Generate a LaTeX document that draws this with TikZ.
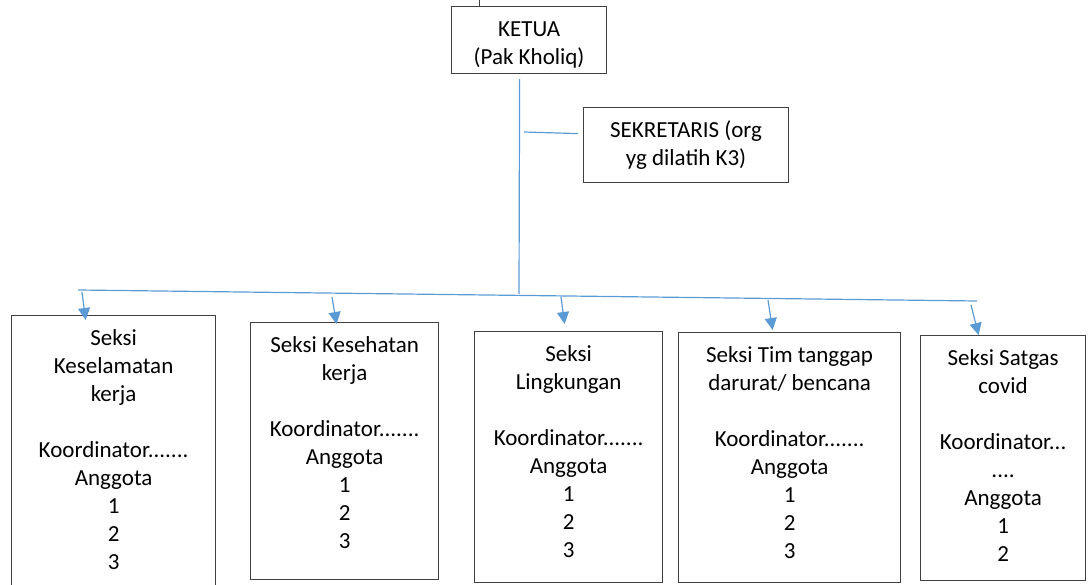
\documentclass[tikz,border=0pt]{standalone}
\usepackage{fontspec}
\setmainfont{Carlito}
\usetikzlibrary{arrows.meta,positioning}
\definecolor{garisBiru}{RGB}{91,155,213}
\definecolor{garisKotak}{RGB}{64,64,64}
\newcommand{\isikotak}[3]{\parbox[c][#2][t]{#1}{\centering\rule{0pt}{29.5pt}#3}}

\begin{document}
\begin{tikzpicture}[x=1pt,y=-1pt,line cap=butt,
  kotak/.style={draw=garisKotak,line width=1.2pt,anchor=north west,inner sep=0pt,
    font=\fontsize{23}{28}\selectfont},
  garis/.style={garisBiru,line width=1.2pt},
  panah/.style={garis,-{Triangle[length=12pt,width=12pt]}}]
  \useasboundingbox (0,0) rectangle (1090,585);
  \node[kotak] (ketua) at (451,6) {\isikotak{155pt}{67pt}{KETUA\\(Pak Kholiq)}};
  \node[kotak] (sek) at (583,107) {\isikotak{205pt}{75pt}{SEKRETARIS (org\\yg dilatih K3)}};
  \node[kotak] (s1) at (11,315) {\isikotak{204pt}{285pt}{Seksi\\Keselamatan\\kerja\\[28pt]Koordinator.......\\Anggota\\1\\2\\3}};
  \node[kotak] (s2) at (250,322) {\isikotak{188pt}{257pt}{Seksi Kesehatan\\kerja\\[28pt]Koordinator.......\\Anggota\\1\\2\\3}};
  \node[kotak] (s3) at (474,331) {\isikotak{188pt}{251pt}{Seksi\\Lingkungan\\[28pt]Koordinator.......\\Anggota\\1\\2\\3}};
  \node[kotak] (s4) at (678,332) {\isikotak{222pt}{250pt}{Seksi Tim tanggap\\darurat/ bencana\\[28pt]Koordinator.......\\Anggota\\1\\2\\3}};
  \node[kotak] (s5) at (920,335) {\isikotak{165pt}{245pt}{Seksi Satgas\\covid\\[28pt]Koordinator...\\....\\Anggota\\1\\2}};
  % garis bantu
  \coordinate (pusat) at (519,294);
  \coordinate (barL) at (78,290);
  \coordinate (barR) at (977,301);
  \coordinate (cabang) at (524,132);
  \coordinate (t1) at (82,292);
  \coordinate (t2) at (332,297);
  \coordinate (t3) at (561,297);
  \coordinate (t4) at (768,300);
  \coordinate (t5) at (971,305);
  \draw[garisKotak,line width=1pt] ([xshift=-49.5pt]ketua.north) -- ++(0,-8);
  \draw[garis] ([xshift=-9.5pt,yshift=-5pt]ketua.south) -- (pusat);
  \draw[garis] (cabang) -- ([xshift=-5pt,yshift=11.5pt]sek.west);
  \draw[garis] (barL) -- (barR);
  \draw[panah] (t1) -- ([xshift=-28pt,yshift=-5pt]s1.north);
  \draw[panah] (t2) -- ([xshift=-8pt,yshift=-2pt]s2.north);
  \draw[panah] (t3) -- ([xshift=-4pt,yshift=7pt]s3.north);
  \draw[panah] (t4) -- ([xshift=-17pt,yshift=2pt]s4.north);
  \draw[panah] (t5) -- ([xshift=-24.5pt]s5.north);
\end{tikzpicture}
\end{document}
